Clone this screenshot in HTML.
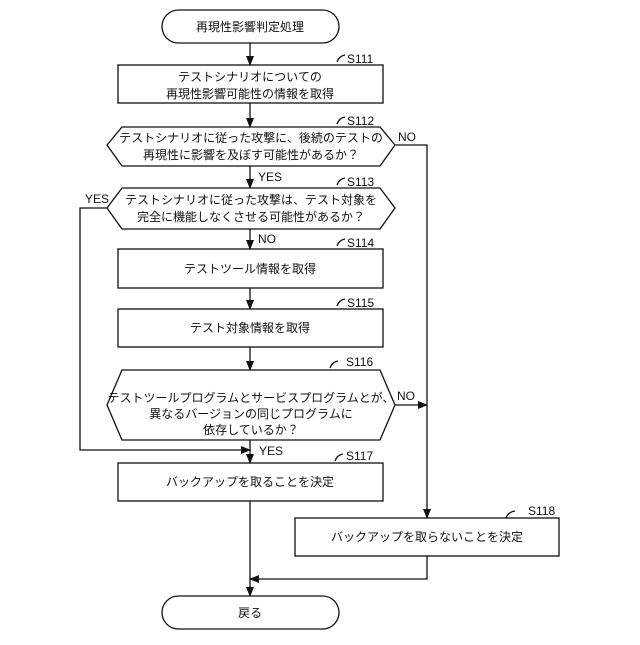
<!DOCTYPE html>
<html><head><meta charset="utf-8"><style>
html,body{margin:0;padding:0;background:#fff;}
svg text{font-family:"Liberation Sans","Noto Sans CJK JP",sans-serif;fill:#111;}
</style></head><body>
<svg width="640" height="640" viewBox="0 0 640 640" xmlns="http://www.w3.org/2000/svg">
<defs><marker id="a" markerWidth="10" markerHeight="10" refX="9" refY="5" orient="auto" markerUnits="userSpaceOnUse"><path d="M0,1 L10,5 L0,9 z" fill="#111"/></marker></defs>
<g fill="none" stroke="#111" stroke-width="1.3">
<rect x="162" y="10" width="177" height="33" rx="16.5"/>
<rect x="118" y="65" width="265" height="38"/>
<polygon points="107,145 122,127 380,127 395,145 380,166 122,166"/>
<polygon points="107,208 122,188 380,188 395,208 380,229 122,229"/>
<rect x="118" y="249" width="265" height="39"/>
<rect x="118" y="309" width="265" height="38"/>
<polygon points="107,405 122,370 380,370 395,405 380,440 122,440"/>
<rect x="118" y="463" width="265" height="38"/>
<rect x="295" y="518" width="264" height="38"/>
<rect x="162" y="596" width="177" height="33" rx="16.5"/>
<line x1="250" y1="43" x2="250" y2="65" marker-end="url(#a)"/>
<line x1="250" y1="103" x2="250" y2="127" marker-end="url(#a)"/>
<line x1="250" y1="166" x2="250" y2="188" marker-end="url(#a)"/>
<line x1="250" y1="229" x2="250" y2="249" marker-end="url(#a)"/>
<line x1="250" y1="288" x2="250" y2="309" marker-end="url(#a)"/>
<line x1="250" y1="347" x2="250" y2="370" marker-end="url(#a)"/>
<line x1="250" y1="440" x2="250" y2="463" marker-end="url(#a)"/>
<line x1="250" y1="501" x2="250" y2="596" marker-end="url(#a)"/>
<polyline points="395,145 427,145 427,518" marker-end="url(#a)"/>
<line x1="395" y1="405" x2="427" y2="405" marker-end="url(#a)"/>
<polyline points="427,556 427,579 250,579" marker-end="url(#a)"/>
<polyline points="107,208 80,208 80,450 250,450" marker-end="url(#a)"/>
<path d="M337,62 q2,-6 8,-7"/><path d="M337,124 q2,-6 8,-7"/><path d="M337,185 q2,-6 8,-7"/>
<path d="M337,246 q2,-6 8,-7"/><path d="M337,306 q2,-6 8,-7"/><path d="M330,368 q2,-6 8,-7"/>
<path d="M335,461 q2,-6 8,-7"/><path d="M506,518 q2,-6 9,-7"/>
</g>
<g font-size="12" text-anchor="middle">
<text x="250" y="31">再現性影響判定処理</text>
<text x="250" y="81">テストシナリオについての</text>
<text x="250" y="98">再現性影響可能性の情報を取得</text>
<text x="251" y="142">テストシナリオに従った攻撃に、後続のテストの</text>
<text x="251" y="159">再現性に影響を及ぼす可能性があるか？</text>
<text x="251" y="204">テストシナリオに従った攻撃は、テスト対象を</text>
<text x="251" y="221">完全に機能しなくさせる可能性があるか？</text>
<text x="250" y="273">テストツール情報を取得</text>
<text x="250" y="332">テスト対象情報を取得</text>
<text x="251" y="402">テストツールプログラムとサービスプログラムとが、</text>
<text x="251" y="418">異なるバージョンの同じプログラムに</text>
<text x="251" y="434">依存しているか？</text>
<text x="250" y="486">バックアップを取ることを決定</text>
<text x="427" y="541">バックアップを取らないことを決定</text>
<text x="250" y="617">戻る</text>
</g>
<g font-size="12">
<text x="347" y="63">S111</text><text x="347" y="125">S112</text><text x="347" y="186">S113</text>
<text x="347" y="247">S114</text><text x="347" y="307">S115</text><text x="346" y="366">S116</text>
<text x="346" y="460">S117</text><text x="528" y="515">S118</text>
<text x="398" y="141">NO</text><text x="258" y="181">YES</text><text x="85" y="203">YES</text>
<text x="258" y="243">NO</text><text x="397" y="400">NO</text><text x="259" y="455">YES</text>
</g>
</svg>
</body></html>
